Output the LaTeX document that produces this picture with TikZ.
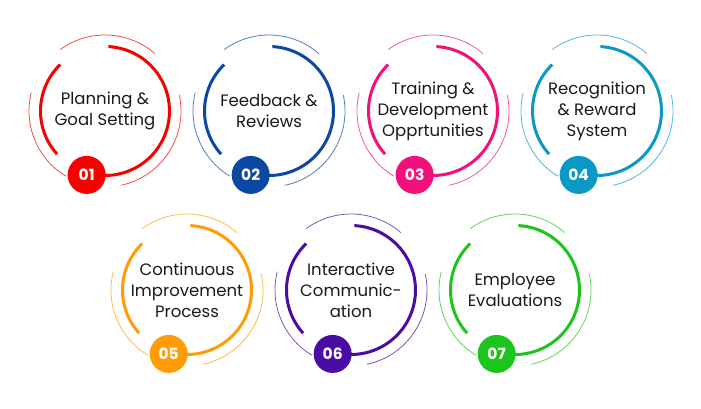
\documentclass[tikz,border=0pt]{standalone}
\usepackage{fontspec}
\setmainfont{Poppins}
\definecolor{c1}{HTML}{F70000}
\definecolor{c2}{HTML}{0A48A2}
\definecolor{c3}{HTML}{F2117A}
\definecolor{c4}{HTML}{0A98C7}
\definecolor{c5}{HTML}{FF9C08}
\definecolor{c6}{HTML}{4B0BA5}
\definecolor{c7}{HTML}{1DC41D}
\tikzset{
  thinarc/.style={draw=#1!70, line width=0.8pt},
  thickarc/.style={draw=#1, line width=3pt},
  labeltext/.style={align=center, text=black!90, font=\fontsize{16.5}{21}\selectfont, inner sep=0pt},
  badge/.style={circle, fill=#1, minimum size=38pt, inner sep=0pt, text=white, font=\fontsize{15.5}{15.5}\selectfont\bfseries},
}
\newcommand\stageitem[6]{%
  \begin{scope}[shift={(#2,#3)}]
    \draw[thinarc=#4] (49:76) arc[start angle=49, end angle=126, radius=76];
    \draw[thinarc=#4] (166:76) arc[start angle=166, end angle=239, radius=76];
    \draw[thinarc=#4] (-78:76) arc[start angle=-78, end angle=12, radius=76];
    \draw[thickarc=#4] (134:64.5) arc[start angle=134, end angle=222, radius=64.5];
    \draw[thickarc=#4] (-106:64.5) arc[start angle=-106, end angle=87, radius=64.5];
    \node[labeltext] (t#1) at (0,0) {#6};
    \node[badge=#4] (b#1) at (-106:66.5) {#5};
  \end{scope}}
\begin{document}
\begin{tikzpicture}[x=1pt, y=1pt]
  \fill[white] (0,0) rectangle (701,409);
  \useasboundingbox (0,0) rectangle (701,409);
  \stageitem{1}{105}{298}{c1}{01}{Planning \&\\Goal Setting}
  \stageitem{2}{269}{298}{c2}{02}{Feedback \&\\Reviews}
  \stageitem{3}{433}{298}{c3}{03}{Training \&\\Development\\Opprtunities}
  \stageitem{4}{597}{298}{c4}{04}{Recognition\\\& Reward\\System}
  \stageitem{5}{187}{119}{c5}{05}{Continuous\\Improvement\\Process}
  \stageitem{6}{351}{119}{c6}{06}{Interactive\\Communic-\\ation}
  \stageitem{7}{515}{119}{c7}{07}{Employee\\Evaluations}
\end{tikzpicture}
\end{document}
